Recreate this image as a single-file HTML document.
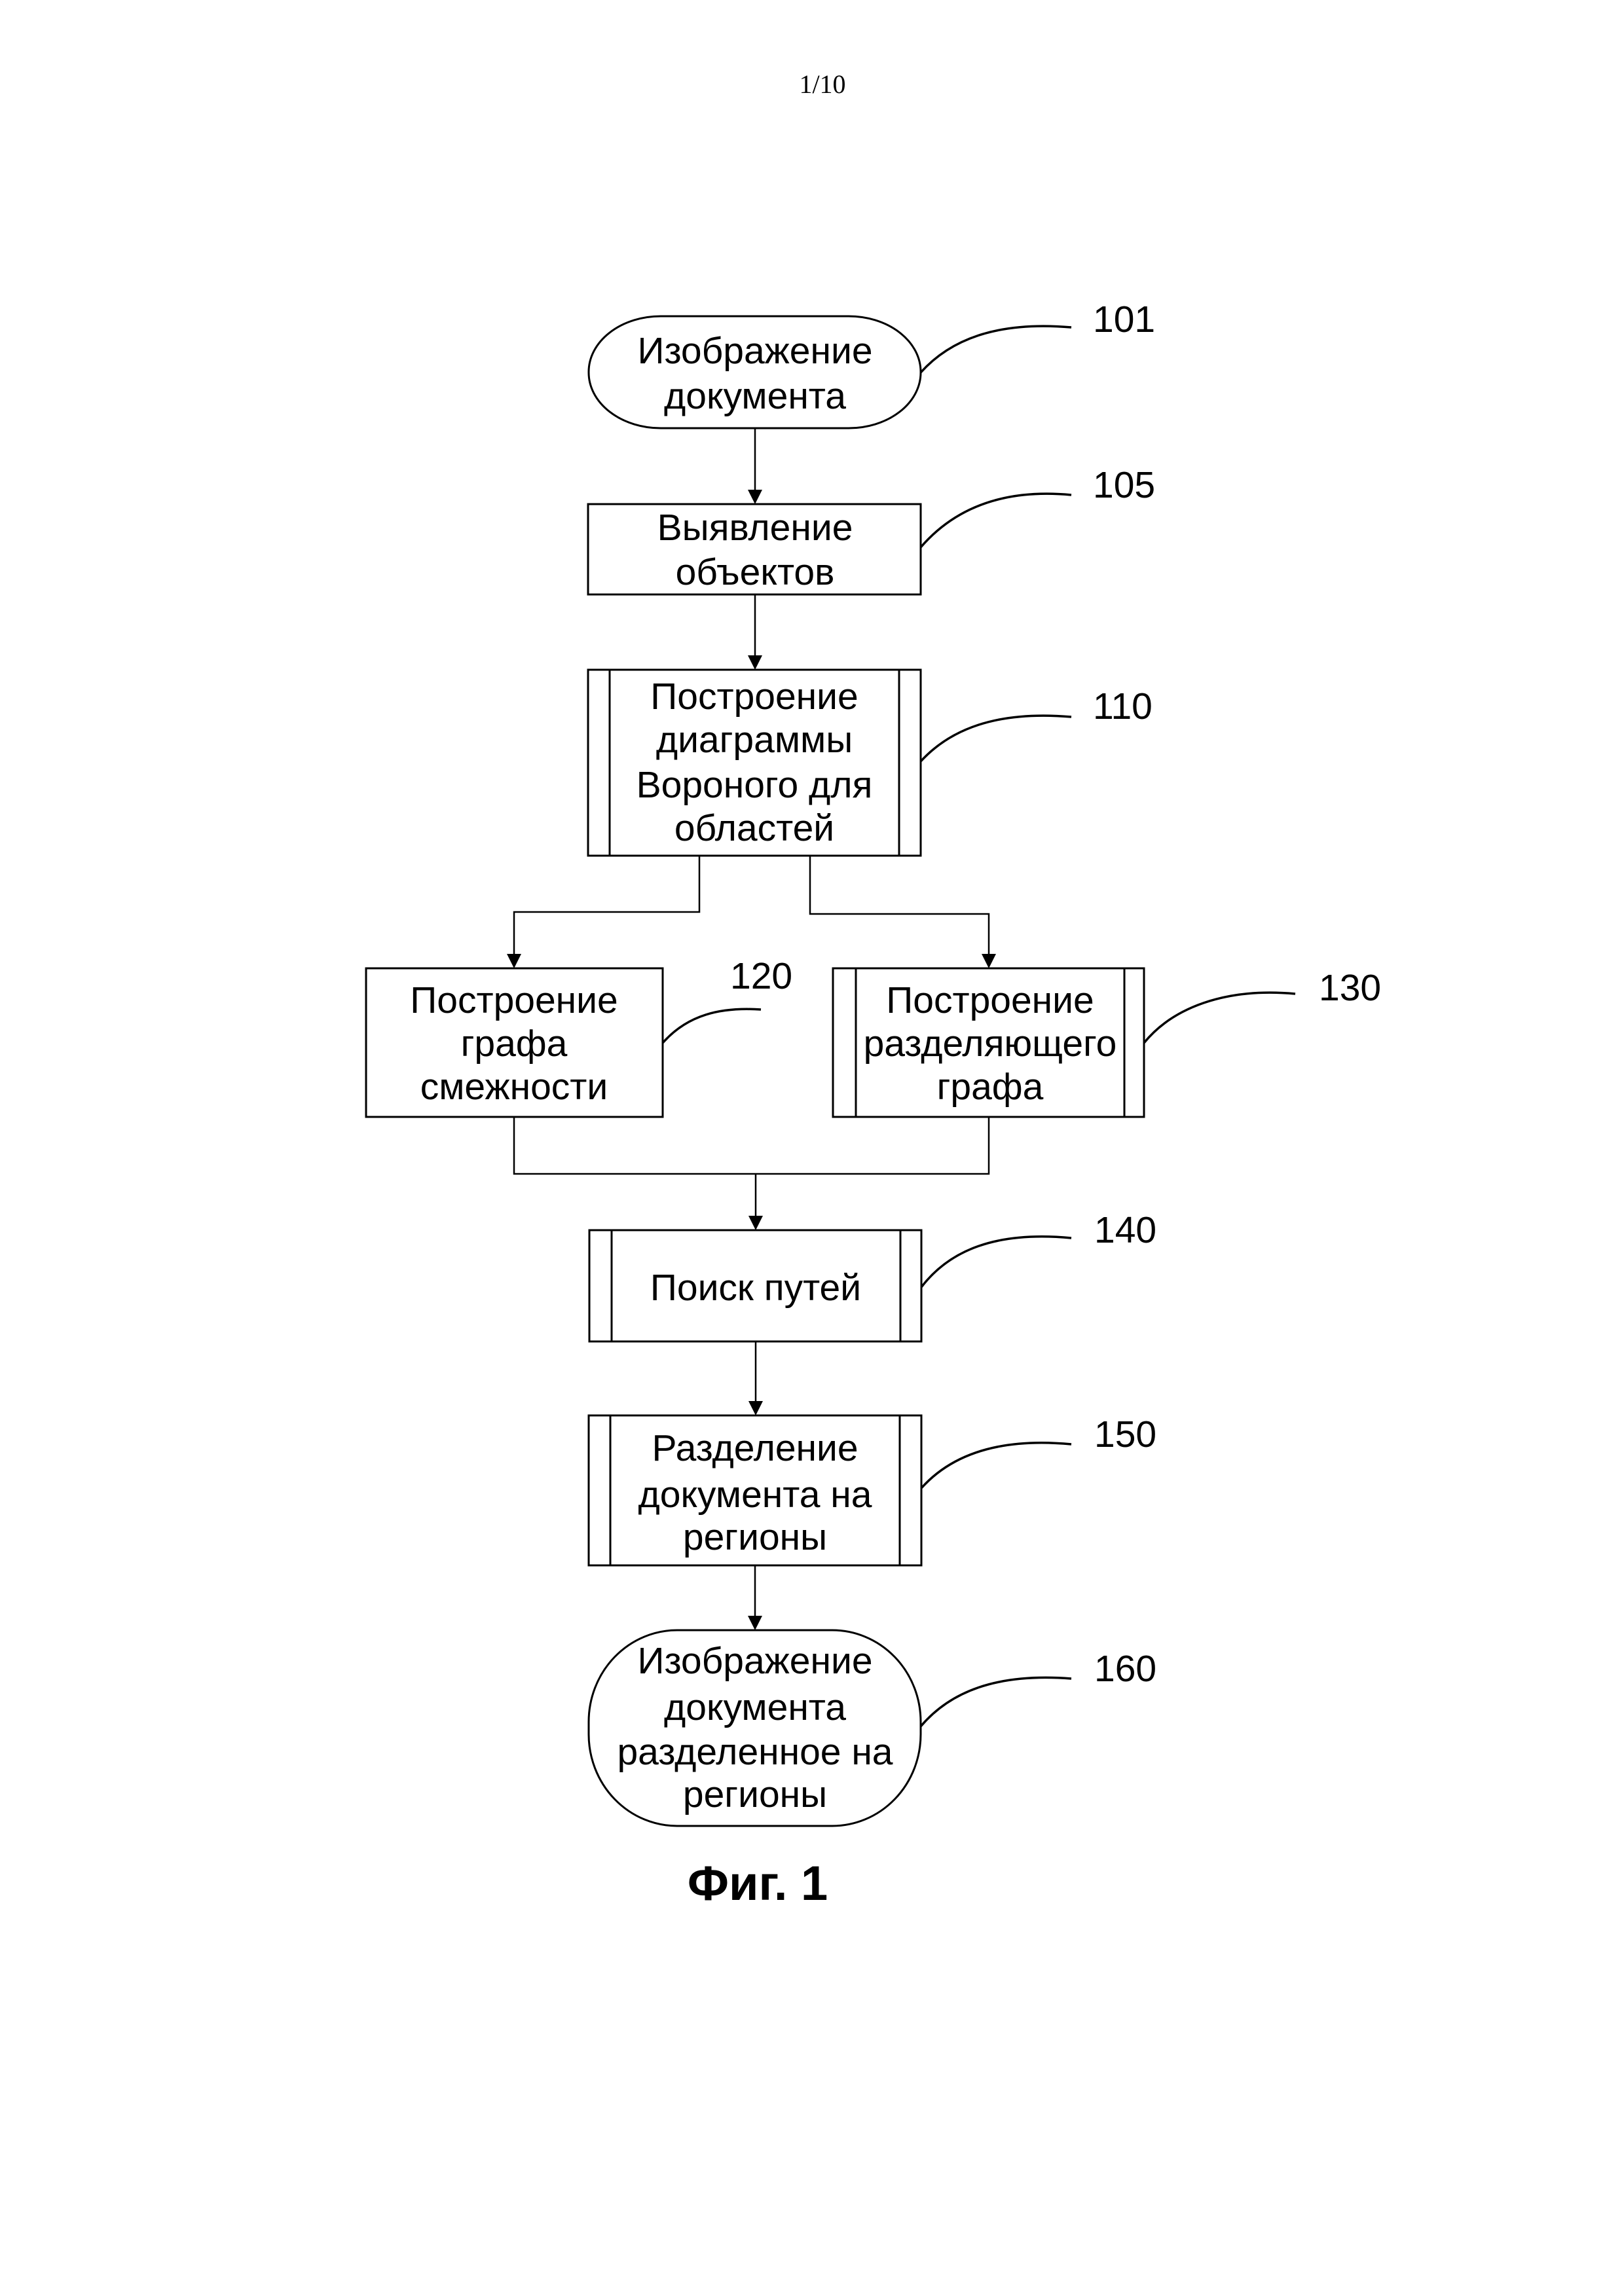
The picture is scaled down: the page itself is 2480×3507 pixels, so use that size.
<!DOCTYPE html>
<html><head><meta charset="utf-8"><style>
html,body{margin:0;padding:0;background:#fff;}
svg{display:block;}
text{font-family:"Liberation Sans",Arial,sans-serif;font-size:57px;fill:#000;}
</style></head><body>
<svg width="2480" height="3507" viewBox="0 0 2480 3507" xmlns="http://www.w3.org/2000/svg">
<defs><marker id="a" markerWidth="22" markerHeight="22" refX="11" refY="21" orient="auto" markerUnits="userSpaceOnUse"><path d="M0,0 L22,0 L11,22 Z" fill="#000" transform="rotate(-90 11 11)"/></marker></defs>
<text x="1256" y="142" text-anchor="middle" style="font-family:'Liberation Serif',serif;font-size:40px">1/10</text>
<g fill="none" stroke="#000" stroke-width="3">
<rect x="899" y="483" width="507" height="171" rx="110" ry="85"/>
<rect x="898" y="770" width="508" height="138"/>
<rect x="898" y="1023" width="508" height="284"/><line x1="931" y1="1023" x2="931" y2="1307"/><line x1="1373" y1="1023" x2="1373" y2="1307"/>
<rect x="559" y="1479" width="453" height="227"/>
<rect x="1272" y="1479" width="475" height="227"/><line x1="1307" y1="1479" x2="1307" y2="1706"/><line x1="1717" y1="1479" x2="1717" y2="1706"/>
<rect x="900" y="1879" width="507" height="170"/><line x1="934" y1="1879" x2="934" y2="2049"/><line x1="1375" y1="1879" x2="1375" y2="2049"/>
<rect x="899" y="2162" width="508" height="229"/><line x1="932" y1="2162" x2="932" y2="2391"/><line x1="1374" y1="2162" x2="1374" y2="2391"/>
<rect x="899" y="2490" width="507" height="299" rx="135" ry="140"/>
</g>
<g fill="none" stroke="#000" stroke-width="2.5">
<line x1="1153" y1="654" x2="1153" y2="750"/>
<line x1="1153" y1="908" x2="1153" y2="1003"/>
<polyline points="1068,1307 1068,1393 785,1393 785,1460"/>
<polyline points="1237,1307 1237,1396 1510,1396 1510,1460"/>
<polyline points="785,1706 785,1793 1510,1793 1510,1706"/>
<line x1="1154" y1="1793" x2="1154" y2="1860"/>
<line x1="1154" y1="2049" x2="1154" y2="2142"/>
<line x1="1153" y1="2391" x2="1153" y2="2470"/>
</g>
<g fill="#000">
<path d="M1142,748 L1164,748 L1153,770 Z"/>
<path d="M1142,1001 L1164,1001 L1153,1023 Z"/>
<path d="M774,1457 L796,1457 L785,1479 Z"/>
<path d="M1499,1457 L1521,1457 L1510,1479 Z"/>
<path d="M1143,1857 L1165,1857 L1154,1879 Z"/>
<path d="M1143,2140 L1165,2140 L1154,2162 Z"/>
<path d="M1142,2468 L1164,2468 L1153,2490 Z"/>
</g>
<g fill="none" stroke="#000" stroke-width="3.5">
<path d="M1406,569 C1450,520 1520,490 1636,500"/>
<path d="M1406,836 C1450,785 1520,745 1636,756"/>
<path d="M1406,1163 C1450,1115 1520,1085 1636,1095"/>
<path d="M1012,1593 C1050,1550 1100,1538 1162,1542"/>
<path d="M1747,1593 C1790,1540 1870,1508 1978,1518"/>
<path d="M1407,1966 C1450,1910 1520,1880 1636,1891"/>
<path d="M1407,2273 C1450,2225 1520,2195 1636,2206"/>
<path d="M1406,2637 C1450,2585 1520,2555 1636,2564"/>
</g>
<g>
<text x="1669" y="507">101</text>
<text x="1669" y="760">105</text>
<text x="1669" y="1098">110</text>
<text x="1115" y="1510">120</text>
<text x="2014" y="1528">130</text>
<text x="1671" y="1898">140</text>
<text x="1671" y="2210">150</text>
<text x="1671" y="2568">160</text>
</g>
<g text-anchor="middle">
<text x="1153" y="555">Изображение</text>
<text x="1153" y="624">документа</text>
<text x="1153" y="825">Выявление</text>
<text x="1153" y="893">объектов</text>
<text x="1152" y="1083">Построение</text>
<text x="1152" y="1149">диаграммы</text>
<text x="1152" y="1218">Вороного для</text>
<text x="1152" y="1284">областей</text>
<text x="785" y="1547">Построение</text>
<text x="785" y="1613">графа</text>
<text x="785" y="1679">смежности</text>
<text x="1512" y="1547">Построение</text>
<text x="1512" y="1613">разделяющего</text>
<text x="1512" y="1679">графа</text>
<text x="1154" y="1986">Поиск путей</text>
<text x="1153" y="2231">Разделение</text>
<text x="1153" y="2302">документа на</text>
<text x="1153" y="2367">регионы</text>
<text x="1153" y="2556">Изображение</text>
<text x="1153" y="2627">документа</text>
<text x="1153" y="2695">разделенное на</text>
<text x="1153" y="2760">регионы</text>
<text x="1157" y="2902" style="font-size:74px;font-weight:bold">Фиг. 1</text>
</g>
</svg>
</body></html>
